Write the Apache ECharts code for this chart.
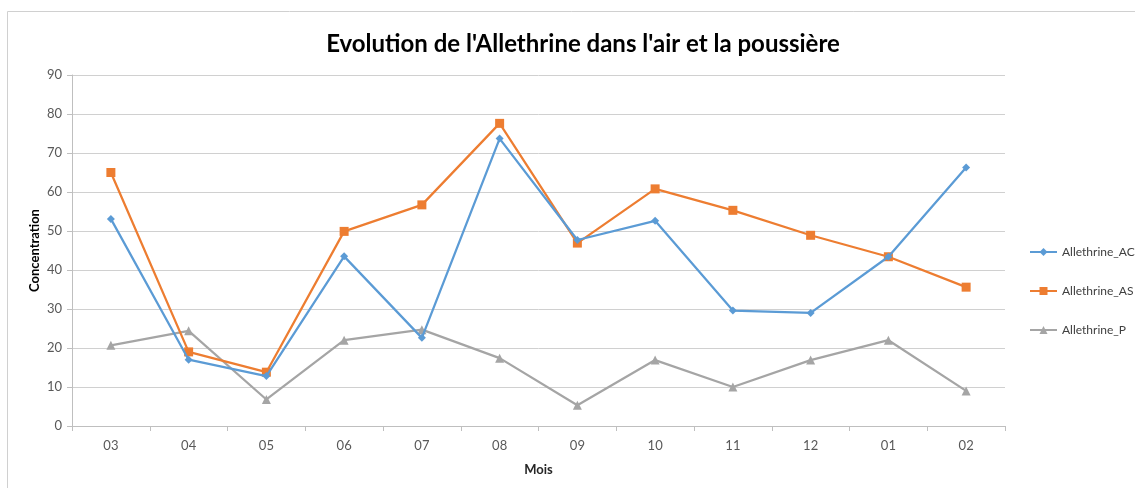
<!DOCTYPE html>
<html>
<head>
<meta charset="utf-8">
<script src="https://cdn.jsdelivr.net/npm/echarts@6/dist/echarts.min.js"></script>
<style>
  html, body { margin: 0; padding: 0; background: #fff; }
  #chart { width: 1135px; height: 488px; }
</style>
</head>
<body>
<div id="chart"></div>
<script>
// Months (March to February)
const months = ['03', '04', '05', '06', '07', '08', '09', '10', '11', '12', '01', '02'];

// Allethrine concentrations per month
const allethrineAC = [53.1, 17.0, 12.8, 43.5, 22.6, 73.7, 47.7, 52.6, 29.6, 29.0, 43.4, 66.3];
const allethrineAS = [65.0, 19.0, 13.8, 49.9, 56.7, 77.6, 46.9, 60.8, 55.3, 48.9, 43.4, 35.6];
const allethrineP  = [20.7, 24.4,  6.8, 22.0, 24.7, 17.4,  5.3, 16.9, 10.0, 16.9, 22.0,  9.0];

const seriesNames = ['Allethrine_AC', 'Allethrine_AS', 'Allethrine_P'];
const seriesColors = ['#5B9BD5', '#ED7D31', '#A5A5A5'];
const seriesSymbols = ['diamond', 'rect', 'triangle'];
const seriesSizes = [8, 9, 9];
const seriesData = [allethrineAC, allethrineAS, allethrineP];

const chart = echarts.init(document.getElementById('chart'), null, { renderer: 'canvas' });

chart.setOption({
  animation: false,
  backgroundColor: '#ffffff',
  title: {
    text: "Evolution de l'Allethrine dans l'air et la poussière",
    left: 578,
    textAlign: 'center',
    top: 27,
    textStyle: { fontFamily: 'Lato, sans-serif', fontWeight: 'bold', fontSize: 24, color: '#000' }
  },
  graphic: [{
    type: 'rect',
    shape: { x: 7.5, y: 11.5, width: 1140, height: 500 },
    style: { fill: 'none', stroke: '#d0d0d0', lineWidth: 1 },
    silent: true
  }],
  legend: {
    orient: 'vertical',
    left: 1024,
    top: 241,
    itemGap: 27,
    itemWidth: 27,
    itemHeight: 10,
    data: seriesNames,
    textStyle: { fontFamily: 'Lato, sans-serif', fontSize: 12, color: '#404040' }
  },
  grid: { left: 72, right: 130, top: 75, bottom: 62 },
  xAxis: {
    type: 'category',
    data: months,
    name: 'Mois',
    nameLocation: 'middle',
    nameGap: 37,
    nameMoveOverlap: false,
    nameTextStyle: { fontFamily: 'Lato, sans-serif', fontWeight: 'bold', fontSize: 13, color: '#262626' },
    axisLine: { lineStyle: { color: '#BFBFBF', width: 1 } },
    axisTick: { show: true, alignWithLabel: false, length: 5, lineStyle: { color: '#BFBFBF' } },
    axisLabel: { fontFamily: 'Lato, sans-serif', fontSize: 13, color: '#595959', margin: 13 },
    splitLine: { show: false }
  },
  yAxis: {
    type: 'value',
    min: 0,
    max: 90,
    interval: 10,
    name: 'Concentration',
    nameLocation: 'middle',
    nameGap: 31,
    nameMoveOverlap: false,
    nameTextStyle: { fontFamily: 'Lato, sans-serif', fontWeight: 'bold', fontSize: 13, color: '#000' },
    axisLine: { show: true, lineStyle: { color: '#BFBFBF', width: 1 } },
    axisTick: { show: true, length: 5, lineStyle: { color: '#BFBFBF' } },
    axisLabel: { fontFamily: 'Lato, sans-serif', fontSize: 13, color: '#595959', margin: 10 },
    splitLine: { show: true, lineStyle: { color: '#D0D0D0', width: 1 } }
  },
  series: seriesNames.map((name, i) => ({
    name: name,
    type: 'line',
    data: seriesData[i],
    symbol: seriesSymbols[i],
    symbolSize: seriesSizes[i],
    showAllSymbol: true,
    color: seriesColors[i],
    lineStyle: { width: 2.25, color: seriesColors[i] },
    itemStyle: { color: seriesColors[i] },
    z: 3 - i
  }))
});
</script>
</body>
</html>
